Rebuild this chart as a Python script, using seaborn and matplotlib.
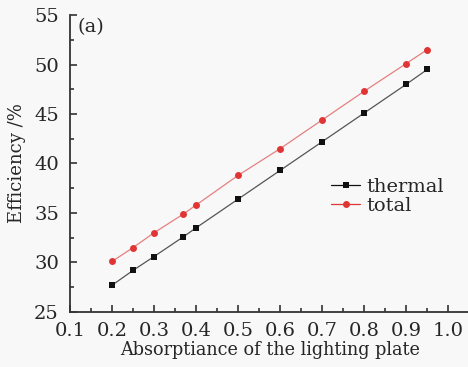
import numpy as np
import pandas as pd
import seaborn as sns
import matplotlib.pyplot as plt
from matplotlib.ticker import MultipleLocator

# values
absorptance = [0.2, 0.25, 0.3, 0.37, 0.4, 0.5, 0.6, 0.7, 0.8, 0.9, 0.95]
thermal = [27.7, 29.2, 30.6, 32.6, 33.5, 36.4, 39.3, 42.2, 45.1, 48.0, 49.5]
total = [30.1, 31.5, 33.0, 34.9, 35.8, 38.8, 41.5, 44.4, 47.3, 50.1, 51.5]
xticks = [0.1, 0.2, 0.3, 0.4, 0.5, 0.6, 0.7, 0.8, 0.9, 1.0]

df = pd.DataFrame({
    "x": absorptance * 2,
    "y": thermal + total,
    "series": ["thermal"] * len(thermal) + ["total"] * len(total),
})

sns.set_style("ticks")
plt.rcParams['font.family'] = ['DejaVu Serif']

fig = plt.figure(figsize=(4.68, 3.67), dpi=100, facecolor="#f8f8f8")
ax = fig.add_axes([0.1496, 0.15, 0.853, 0.809])
ax.set_facecolor("#f8f8f8")

sns.lineplot(data=df, x="x", y="y", hue="series", style="series",
             palette={"thermal": "#111111", "total": "#e03535"},
             markers={"thermal": "s", "total": "o"}, dashes=False,
             markersize=5, markeredgewidth=0, linewidth=0.9, ax=ax)

# lighter connecting lines like the original
for line, c, mc in zip(ax.get_lines()[:2], ["#555555", "#e58080"], ["#111111", "#e03535"]):
    line.set_color(c)
    line.set_markerfacecolor(mc)
    line.set_markeredgecolor("none")

ax.set_xlim(0.1, 1.05)
ax.set_ylim(25, 55)
ax.set_xticks(xticks)
ax.set_xticklabels([f"{v:.1f}" for v in xticks])
ax.xaxis.set_minor_locator(MultipleLocator(0.05))
ax.yaxis.set_major_locator(MultipleLocator(5))
ax.yaxis.set_minor_locator(MultipleLocator(2.5))
ax.tick_params(which="both", direction="in", labelsize=14, width=1.2, color="#333333")
ax.tick_params(which="major", length=5)
ax.tick_params(which="minor", length=3)
ax.tick_params(axis="x", pad=7)
ax.tick_params(axis="y", pad=8)
sns.despine(ax=ax)
for s in ["left", "bottom"]:
    ax.spines[s].set_linewidth(1.3)
    ax.spines[s].set_color("#333333")

ax.set_xlabel("Absorptiance of the lighting plate", fontsize=12.7, labelpad=1)
ax.set_ylabel("Efficiency /%", fontsize=13, labelpad=6)
ax.text(0.117, 54.7, "(a)", fontsize=14, va="top")

ax.legend(loc="center right", bbox_to_anchor=(0.98, 0.39), frameon=False,
          fontsize=14, handlelength=1.5, handletextpad=0.3, labelspacing=0.05)

fig.savefig("out.png", dpi=100, facecolor=fig.get_facecolor())
